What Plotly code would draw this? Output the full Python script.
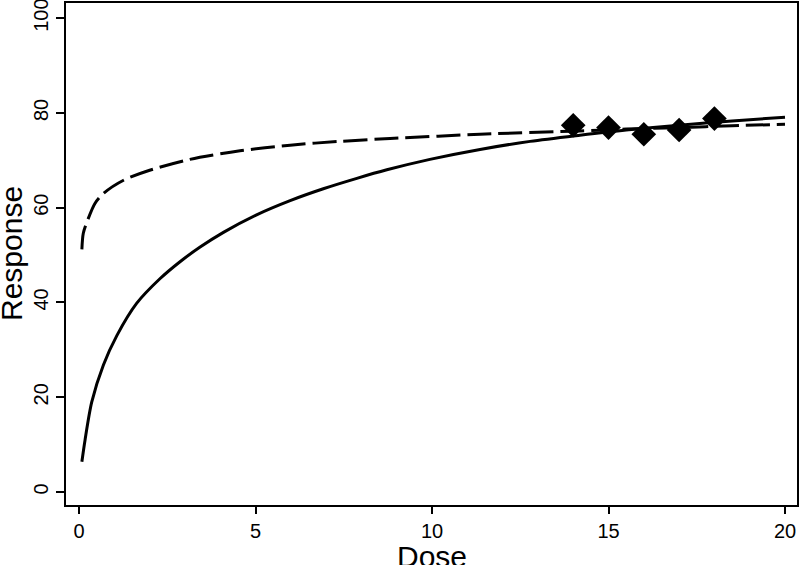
import plotly.graph_objects as go

# values
solid_dose = [0.08, 0.17, 0.36, 0.69, 1.07, 1.63, 2.29, 2.86, 3.43, 4.09, 5.03, 5.98,
              6.92, 7.87, 8.72, 9.94, 11.36, 12.78, 14.19, 15.5, 17.0, 18.5, 20.0]
solid_resp = [6.4, 11.0, 19.0, 26.8, 33.0, 39.8, 45.0, 48.6, 51.7, 54.8, 58.5, 61.5,
              64.0, 66.2, 68.0, 70.2, 72.3, 74.0, 75.3, 76.4, 77.4, 78.3, 79.1]

dashed_dose = [0.08, 0.12, 0.26, 0.45, 0.69, 1.26, 2.0, 3.14, 4.56, 5.98, 7.39, 8.81,
               11.36, 14.19, 15.5, 17.0, 18.5, 20.0]
dashed_resp = [51.2, 54.6, 57.7, 60.9, 63.0, 65.8, 67.9, 70.2, 72.0, 73.2, 74.0, 74.6,
               75.5, 76.2, 76.6, 76.9, 77.3, 77.6]

obs_dose = [14, 15, 16, 17, 18]
obs_resp = [77.4, 76.9, 75.5, 76.4, 78.8]

ink = "#000000"
font_family = "Liberation Sans, Arial, sans-serif"

fig = go.Figure()

fig.add_trace(go.Scatter(
    x=dashed_dose, y=dashed_resp, mode="lines",
    line=dict(color=ink, width=3, dash="24px,7px", shape="spline", smoothing=0.8),
    showlegend=False,
))
fig.add_trace(go.Scatter(
    x=solid_dose, y=solid_resp, mode="lines",
    line=dict(color=ink, width=3, shape="spline", smoothing=0.8),
    showlegend=False,
))
fig.add_trace(go.Scatter(
    x=obs_dose, y=obs_resp, mode="markers",
    marker=dict(symbol="diamond", size=19, color=ink),
    showlegend=False,
))

fig.update_layout(
    width=800,
    height=565,
    margin=dict(l=66, r=3, t=3, b=60),
    paper_bgcolor="white",
    plot_bgcolor="white",
    font=dict(family=font_family, color=ink, size=20),
)
axis_style = dict(
    showgrid=False,
    zeroline=False,
    showline=True,
    mirror=True,
    linecolor=ink,
    linewidth=2,
    ticks="outside",
    tickwidth=2,
    tickcolor=ink,
    tickfont=dict(size=20),
    ticklabeloverflow="allow",
    automargin=False,
)
fig.update_xaxes(range=[-0.37, 20.34], tickvals=[0, 5, 10, 15, 20], ticklen=7, **axis_style)
fig.update_yaxes(range=[-2.74, 103.2], tickvals=[0, 20, 40, 60, 80, 100], ticklen=8,
                 tickangle=-90, **axis_style)

# axis titles as annotations so they sit where the original puts them
fig.add_annotation(
    text="Dose", xref="paper", yref="paper", x=0.5, y=0,
    xanchor="center", yanchor="middle", yshift=-51,
    showarrow=False, font=dict(size=30),
)
fig.add_annotation(
    text="Response", xref="paper", yref="paper", x=0, y=0.5,
    xanchor="center", yanchor="middle", xshift=-55, textangle=-90,
    showarrow=False, font=dict(size=30),
)

# drop the page's default body margin so the figure sits at the window corner
fig.write_html(
    "out.html",
    config={"displayModeBar": False},
    post_script="document.body.style.margin='0';",
)
